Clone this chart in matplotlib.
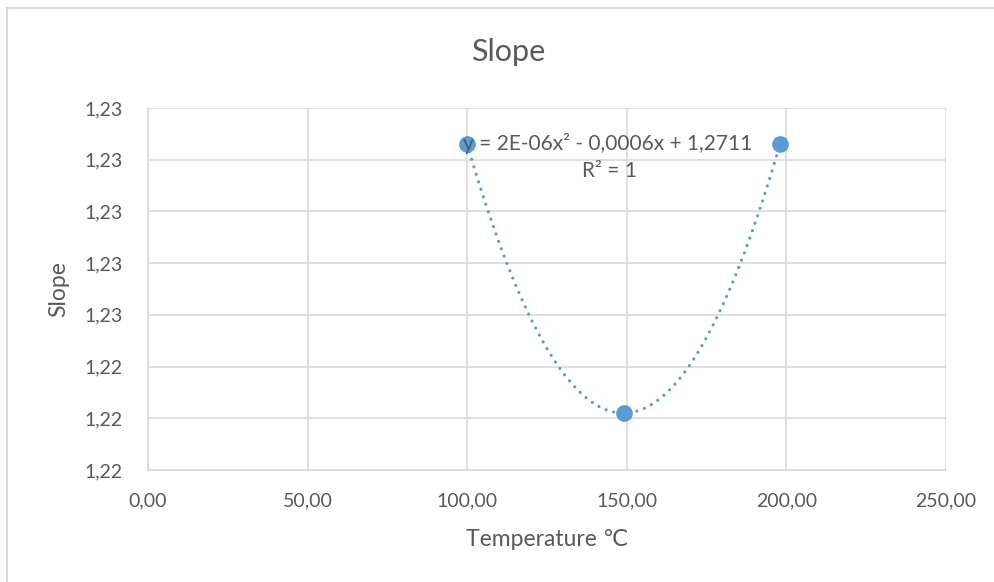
import numpy as np
import matplotlib
matplotlib.use("Agg")
import matplotlib.pyplot as plt
from matplotlib.lines import Line2D
from matplotlib.ticker import FuncFormatter, MultipleLocator

plt.rcParams['font.family'] = ['Lato', 'DejaVu Sans']

# Measured slope at each temperature
temperature = [100.0, 149.0, 198.0]
slope = [1.2283, 1.2231, 1.2283]

title = "Slope"
x_label = "Temperature \u2103"
y_label = "Slope"
equation_text = "y = 2E-06x\u00b2 - 0,0006x + 1,2711"
r2_text = "R\u00b2 = 1"

x_limits = (0, 250)
y_limits = (1.222, 1.229)

blue = "#5b9bd5"
grey_text = "#595959"
grid_grey = "#d9d9d9"

fig = plt.figure(figsize=(9.95, 5.82), dpi=100)
ax = fig.add_axes([148 / 995, 1 - 470 / 582, (946 - 148) / 995, (470 - 108) / 582])

# Second-order polynomial trendline through the measurements
coeffs = np.polyfit(temperature, slope, 2)
xs = np.linspace(min(temperature), max(temperature), 200)
ax.plot(xs, np.polyval(coeffs, xs), linestyle=(0, (0.01, 2.45)), color=blue,
        linewidth=2.3, dash_capstyle='round', zorder=3)

ax.plot(temperature, slope, 'o', color=blue, markersize=11, zorder=4)

ax.set_xlim(*x_limits)
ax.set_ylim(*y_limits)
ax.xaxis.set_major_locator(MultipleLocator(50))
ax.yaxis.set_major_locator(MultipleLocator(0.001))
ax.xaxis.set_major_formatter(FuncFormatter(lambda v, p: f"{v:.2f}".replace('.', ',')))
ax.yaxis.set_major_formatter(FuncFormatter(lambda v, p: f"{v + 1e-9:.2f}".replace('.', ',')))

ax.grid(True, color=grid_grey, linewidth=1.2)
ax.set_axisbelow(True)
for side in ['top', 'right']:
    ax.spines[side].set_visible(False)
ax.spines['left'].set_color(grid_grey)
ax.spines['bottom'].set_color(grid_grey)
ax.spines['left'].set_linewidth(1.2)
ax.spines['bottom'].set_linewidth(1.2)
ax.tick_params(length=0, labelsize=14, labelcolor=grey_text)
ax.tick_params(axis='x', pad=16)
ax.tick_params(axis='y', pad=18)

ax.set_xlabel(x_label, fontsize=16.5, color=grey_text, labelpad=14)
ax.set_ylabel(y_label, fontsize=16.5, color=grey_text, labelpad=11)
fig.text(508 / 995, 1 - 52 / 582, title, fontsize=22, color=grey_text,
         ha='center', va='center')

# Trendline equation sits on top of the data markers
ax.text((608 - 148) / 798, 1 - (143 - 108) / 362, equation_text, transform=ax.transAxes,
        fontsize=15, color=grey_text, ha='center', va='center', zorder=6)
ax.text((609 - 148) / 798, 1 - (171 - 108) / 362, r2_text, transform=ax.transAxes,
        fontsize=15, color=grey_text, ha='center', va='center', zorder=6)

# Chart frame
fig.add_artist(Line2D([7.5 / 995, 7.5 / 995], [0, 1 - 7.5 / 582], color=grid_grey,
                      linewidth=1.5, transform=fig.transFigure))
fig.add_artist(Line2D([7.5 / 995, 1], [1 - 7.5 / 582, 1 - 7.5 / 582], color=grid_grey,
                      linewidth=1.5, transform=fig.transFigure))

fig.savefig("out.png", dpi=100, facecolor="white")
